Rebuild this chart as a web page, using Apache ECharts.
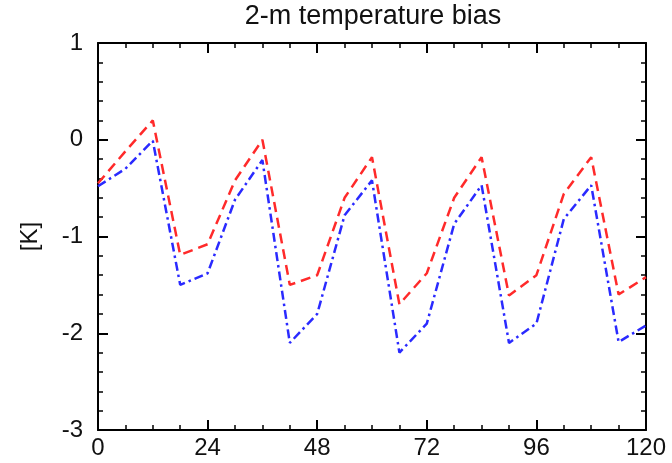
<!DOCTYPE html>
<html>
<head>
<meta charset="utf-8">
<script src="https://cdn.jsdelivr.net/npm/echarts@6/dist/echarts.min.js"></script>
<style>
html,body{margin:0;padding:0;background:#fff;}
#chart{width:672px;height:463px;}
</style>
</head>
<body>
<div id="chart"></div>
<script>
const hours = [0,6,12,18,24,30,36,42,48,54,60,66,72,78,84,90,96,102,108,114,120];
const redValues = [-0.45,-0.12,0.2,-1.19,-1.08,-0.42,0.0,-1.5,-1.4,-0.6,-0.18,-1.7,-1.38,-0.6,-0.18,-1.61,-1.4,-0.56,-0.18,-1.6,-1.42];
const blueValues = [-0.48,-0.3,-0.01,-1.5,-1.38,-0.62,-0.21,-2.1,-1.8,-0.78,-0.42,-2.2,-1.9,-0.87,-0.47,-2.1,-1.9,-0.82,-0.47,-2.09,-1.92];
const titleText = '2-m temperature bias';
const yName = '[K]';

const FONT = 'Liberation Sans, Helvetica, Arial, sans-serif';
const chart = echarts.init(document.getElementById('chart'));

const axisLine = {show:true, onZero:false, lineStyle:{color:'#000', width:2}};
const tick = {show:true, inside:true, length:10, lineStyle:{color:'#000', width:2}};
const minor = (n)=>({show:true, splitNumber:n, length:5, lineStyle:{color:'#000', width:1.5}});

const xBase = {type:'value', min:0, max:120, interval:24, splitLine:{show:false},
  axisLine:axisLine, axisTick:tick};
const yBase = {type:'value', min:-3, max:1, interval:1, splitLine:{show:false},
  axisLine:axisLine, axisTick:tick};

chart.setOption({
  animation:false,
  backgroundColor:'#fff',
  title:{text:titleText, left:368, top:-2, textAlign:'center',
    textStyle:{fontFamily:FONT, fontSize:27, fontWeight:'normal', color:'#111'}},
  grid:{left:98, right:26, top:43, bottom:33},
  xAxis:[
    Object.assign({}, xBase, {position:'bottom', minorTick:minor(4),
      axisLabel:{show:true, margin:6, fontFamily:FONT, fontSize:24, color:'#111'}}),
    Object.assign({}, xBase, {position:'top', minorTick:minor(4), axisLabel:{show:false}})
  ],
  yAxis:[
    Object.assign({}, yBase, {position:'left', minorTick:minor(5),
      name:yName, nameLocation:'middle', nameGap:56, nameRotate:90,
      nameTextStyle:{fontFamily:FONT, fontSize:24, color:'#111'},
      axisLabel:{show:true, margin:15, fontFamily:FONT, fontSize:24, color:'#111'}}),
    Object.assign({}, yBase, {position:'right', minorTick:minor(5), axisLabel:{show:false}})
  ],
  series:[
    {type:'line', xAxisIndex:0, yAxisIndex:0, symbol:'none',
      data:hours.map((h,i)=>[h, redValues[i]]),
      lineStyle:{color:'#ff2a2a', width:2.5, type:[10,6]}},
    {type:'line', xAxisIndex:0, yAxisIndex:0, symbol:'none',
      data:hours.map((h,i)=>[h, blueValues[i]]),
      lineStyle:{color:'#2a2aff', width:2.5, type:[9,4,2.5,4]}}
  ]
});
</script>
</body>
</html>
